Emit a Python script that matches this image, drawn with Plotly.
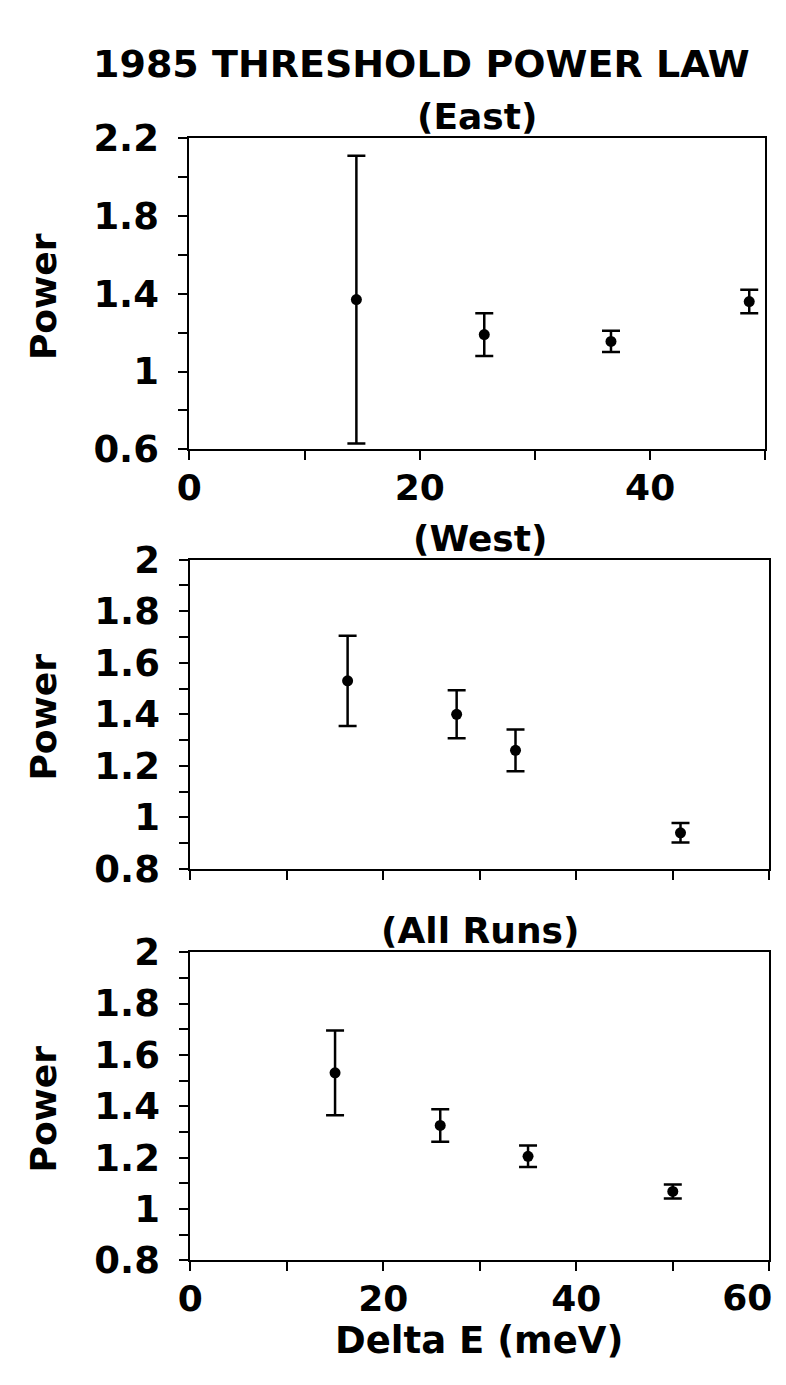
import plotly.graph_objects as go

# Threshold power-law fits, 1985 data
east_de = [14.5, 25.6, 36.6, 48.6]
east_pow = [1.37, 1.19, 1.155, 1.36]
east_err = [0.74, 0.11, 0.055, 0.06]

west_de = [16.3, 27.6, 33.7, 50.8]
west_pow = [1.53, 1.40, 1.26, 0.94]
west_err = [0.175, 0.093, 0.081, 0.038]

all_de = [15.0, 25.9, 35.0, 50.0]
all_pow = [1.53, 1.325, 1.205, 1.068]
all_err = [0.165, 0.063, 0.042, 0.027]

panel_titles = ["(East)", "(West)", "(All Runs)"]
main_title = "1985 THRESHOLD POWER LAW"
y_title = "Power"
x_title = "Delta E (meV)"

x_ranges = [[0, 50], [0, 60], [0, 60]]
y_ranges = [[0.6, 2.2], [0.8, 2.0], [0.8, 2.0]]
y_dticks = [0.4, 0.2, 0.2]

W, H = 786, 1385
FONT = "DejaVu Sans"

# pixel boxes of the three panels: (left, right, top, bottom)
boxes = [(180, 768, 121, 442), (181, 772, 556, 875), (181, 772, 961, 1279)]


def px_x(v):
    return v / W


def px_y(v):
    return 1 - v / H


fig = go.Figure()

series = [(east_de, east_pow, east_err), (west_de, west_pow, west_err), (all_de, all_pow, all_err)]
for i, (xs, ys, es) in enumerate(series):
    sfx = "" if i == 0 else str(i + 1)
    fig.add_trace(go.Scatter(
        x=xs, y=ys, mode="markers",
        marker=dict(color="black", size=11, symbol="circle"),
        error_y=dict(type="data", array=es, visible=True, color="black", thickness=2.5, width=9),
        xaxis="x" + sfx, yaxis="y" + sfx, showlegend=False, hoverinfo="x+y",
    ))

# empty trace that carries the extra bottom axis of the last panel
fig.add_trace(go.Scatter(x=[], y=[], xaxis="x4", yaxis="y3", showlegend=False, hoverinfo="skip"))

tickfont = dict(family=FONT, size=37, color="black", weight="bold")
xtickfont = dict(family=FONT, size=36, color="black", weight="bold")
axis_common = dict(
    showline=True, linecolor="black", linewidth=2, mirror=True,
    ticks="outside", ticklen=9, tickwidth=2, tickcolor="black",
    showgrid=False, zeroline=False,
    fixedrange=True,
)
minor_x = dict(dtick=10, tick0=0, ticks="outside", ticklen=9, tickwidth=2, tickcolor="black")

layout = dict(
    width=W, height=H, margin=dict(l=0, r=0, t=0, b=0),
    paper_bgcolor="white", plot_bgcolor="white", showlegend=False,
)

for i, (l, r, t, b) in enumerate(boxes):
    sfx = "" if i == 0 else str(i + 1)
    xa = dict(
        axis_common, tickfont=xtickfont,
        domain=[px_x(l), px_x(r)], range=x_ranges[i],
        anchor="y" + sfx, tick0=0, dtick=20, minor=minor_x,
        ticklabelstandoff=-3,
    )
    if i == 1:
        xa["showticklabels"] = False
    if i == 2:
        xa.update(tickmode="array", tickvals=[0, 20, 40, 60], ticktext=["0", "20", "40", ""])
    layout["xaxis" + sfx] = xa
    layout["yaxis" + sfx] = dict(
        axis_common, tickfont=tickfont,
        domain=[px_y(b), px_y(t)], range=y_ranges[i],
        anchor="x" + sfx, tick0=y_ranges[i][0], dtick=y_dticks[i],
        minor=dict(dtick=y_dticks[i] / 2, tick0=y_ranges[i][0], ticks="outside",
                   ticklen=9, tickwidth=2, tickcolor="black"),
        ticklabelstandoff=12,
    )

# end label of the last panel, pulled in from the page edge
l3, r3, t3, b3 = boxes[2]
layout["xaxis4"] = dict(
    overlaying="x3", anchor="y3", side="bottom",
    domain=[px_x(l3), px_x(r3)], range=x_ranges[2],
    showline=False, showgrid=False, zeroline=False, ticks="outside", ticklen=9,
    tickcolor="rgba(0,0,0,0)", tickwidth=2,
    tickmode="array", tickvals=[60], ticktext=["60"],
    tickfont=xtickfont, ticklabelstandoff=-3, ticklabelshift=-22,
    ticklabeloverflow="allow", fixedrange=True,
)

fig.update_layout(**layout)

annotations = [
    dict(text=main_title, x=px_x(417), y=px_y(44), xref="paper", yref="paper",
         xanchor="center", yanchor="middle", showarrow=False,
         font=dict(family=FONT, size=38, color="black", weight="bold")),
]
for i, (l, r, t, b) in enumerate(boxes):
    annotations.append(dict(
        text=panel_titles[i], x=px_x((l + r) / 2), y=px_y(t + 1), xref="paper", yref="paper",
        xanchor="center", yanchor="bottom", showarrow=False,
        font=dict(family=FONT, size=36, color="black", weight="bold")))
    annotations.append(dict(
        text=y_title, x=px_x(31), y=px_y((t + b) / 2 + 3), xref="paper", yref="paper",
        xanchor="center", yanchor="middle", textangle=-90, showarrow=False,
        font=dict(family=FONT, size=36, color="black", weight="bold")))

annotations.append(dict(
    text=x_title, x=px_x(476), y=0, xref="paper", yref="paper",
    xanchor="center", yanchor="bottom", showarrow=False, borderpad=0,
    font=dict(family=FONT, size=37, color="black", weight="bold")))

fig.update_layout(annotations=annotations)

fig.write_html("out.html")
